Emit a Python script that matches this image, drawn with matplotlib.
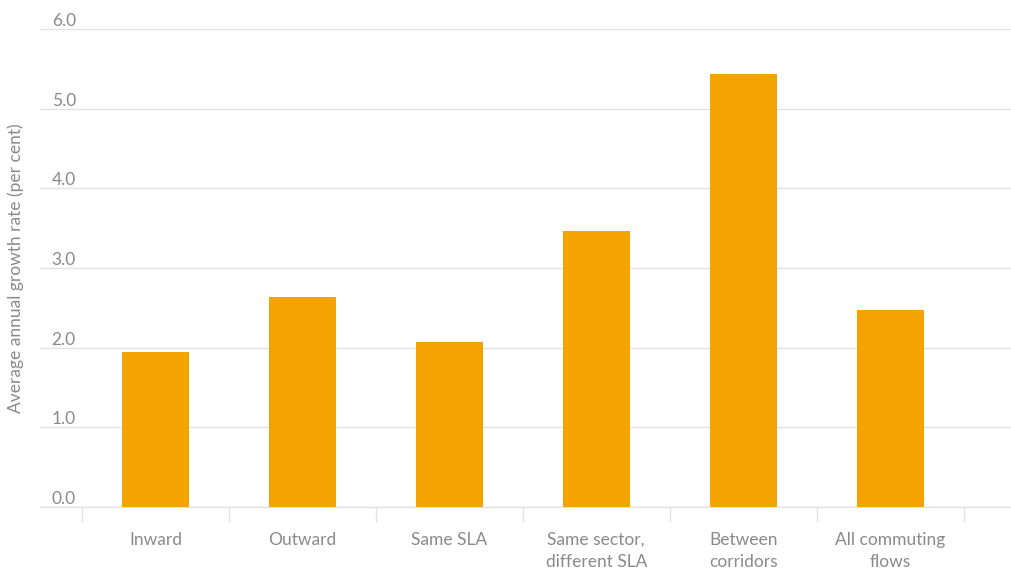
import numpy as np
import matplotlib
matplotlib.use("Agg")
import matplotlib.pyplot as plt
from matplotlib.transforms import blended_transform_factory

plt.rcParams.update({
    "font.family": ["Lato", "DejaVu Sans"],
    "font.size": 12,
})

categories = ["Inward", "Outward", "Same SLA", "Same sector,\ndifferent SLA",
              "Between\ncorridors", "All commuting\nflows"]
growth = [1.95, 2.63, 2.07, 3.46, 5.44, 2.47]
yticks = [0.0, 1.0, 2.0, 3.0, 4.0, 5.0, 6.0]

BAR = "#F5A300"
GRID = "#E3E3E3"
TXT = "#8A8A8A"

fig = plt.figure(figsize=(10.12, 5.72), dpi=100)
ax = fig.add_axes([40 / 1012, 1 - 507 / 572, 1 - 40 / 1012, (507 - 29) / 572])

x = np.arange(len(categories))
ax.bar(x, growth, width=0.456, color=BAR, zorder=3)

ax.set_xlim(-0.786, 5.83)
ax.set_ylim(0, 6)

# horizontal gridlines, labels sit above the line
ax.set_yticks(yticks)
ax.yaxis.grid(True, color=GRID, linewidth=1.0)
ax.set_axisbelow(True)
ax.tick_params(axis="y", length=0, labelleft=False)
tr = blended_transform_factory(ax.transAxes, ax.transData)
for v in yticks:
    ax.text(0.012, v, f"{v:.1f}", transform=tr, ha="left", va="bottom",
            color=TXT, fontsize=12.5, zorder=4)

ax.set_ylabel("Average annual growth rate (per cent)", color=TXT, fontsize=12.5,
              labelpad=0)
ax.yaxis.set_label_coords(-0.016, 0.5)

# category labels centered, tick marks at the boundaries
ax.set_xticks(x)
ax.set_xticklabels(categories, color=TXT, fontsize=12.5, linespacing=1.45, va="top")
ax.tick_params(axis="x", which="major", length=0, pad=18)
ax.set_xticks(np.arange(len(categories) + 1) - 0.5, minor=True)
ax.tick_params(axis="x", which="minor", length=11, color=GRID, width=1.0)

for sp in ("top", "right", "left"):
    ax.spines[sp].set_visible(False)
ax.spines["bottom"].set_color(GRID)
ax.spines["bottom"].set_linewidth(1.0)

fig.savefig("out.png", dpi=100)
